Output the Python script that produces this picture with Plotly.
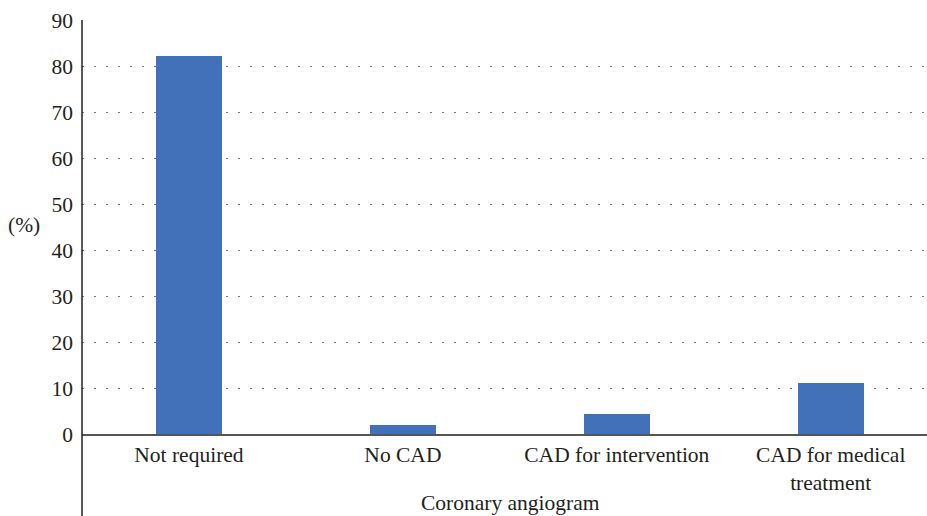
import plotly.graph_objects as go

# Coronary angiogram outcome shares (%)
categories = ["Not required", "No CAD", "CAD for intervention", "CAD for medical<br>treatment"]
percent = [82.2, 2.0, 4.4, 11.1]
y_ticks = [0, 10, 20, 30, 40, 50, 60, 70, 80, 90]

FONT = "Liberation Serif"
TEXT = "#231F20"

fig = go.Figure(
    go.Bar(
        x=list(range(len(categories))),
        y=percent,
        width=0.31,
        marker=dict(color="#4371B9", line=dict(width=0)),
    )
)

fig.update_layout(
    width=927,
    height=516,
    margin=dict(l=82, r=0, t=20, b=82),
    paper_bgcolor="white",
    plot_bgcolor="white",
    showlegend=False,
    font=dict(family=FONT, size=21.5, color=TEXT),
    bargap=0,
)

fig.update_xaxes(
    range=[-0.5, 3.45],
    tickvals=list(range(len(categories))),
    ticktext=categories,
    showgrid=False,
    showline=True,
    linecolor="#555555",
    linewidth=1.5,
    ticks="",
    zeroline=False,
    ticklabelstandoff=0,
)

fig.update_yaxes(
    range=[0, 90],
    tickvals=y_ticks,
    showgrid=True,
    gridcolor="#7a7a7a",
    gridwidth=1.3,
    griddash="1.5px,10.5px",
    showline=False,
    zeroline=False,
    ticks="",
    ticklabelstandoff=8,
)

# vertical axis line reaching below the category labels
fig.add_shape(
    type="line", xref="paper", yref="paper",
    x0=0, x1=0, y0=-82 / 414, y1=1,
    line=dict(color="#231F20", width=1.5),
)

fig.add_annotation(
    text="(%)", xref="paper", yref="y", x=0, y=45.4,
    xshift=-58, showarrow=False, xanchor="center", yanchor="middle",
)
fig.add_annotation(
    text="Coronary angiogram", xref="paper", yref="paper", x=0.5, y=0,
    xshift=6, yshift=-69, showarrow=False, xanchor="center", yanchor="middle",
)

fig.write_html("out.html")
